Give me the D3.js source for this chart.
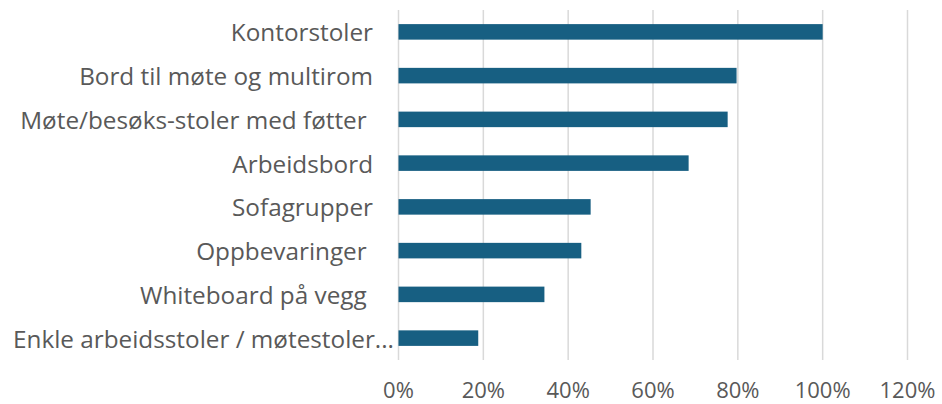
<!DOCTYPE html>
<html><head><meta charset="utf-8">
<script src="https://cdn.jsdelivr.net/npm/d3@7"></script>
<style>
html,body{margin:0;padding:0;background:#fff;}
svg text{white-space:pre;}
</style></head>
<body>
<div id="chart"></div>
<script>
const categories = ["Kontorstoler","Bord til møte og multirom","Møte/besøks-stoler med føtter ","Arbeidsbord","Sofagrupper","Oppbevaringer ","Whiteboard på vegg ","Enkle arbeidsstoler / møtestoler..."];
const values = [1.00, 0.797, 0.776, 0.684, 0.453, 0.431, 0.344, 0.188];
const xTicks = [0, 0.2, 0.4, 0.6, 0.8, 1.0, 1.2];

const W = 942, H = 404;
const margin = {left: 398.5, right: 34.5, top: 10, bottom: 44};
const svg = d3.select("#chart").append("svg").attr("width", W).attr("height", H);

const x = d3.scaleLinear().domain([0, 1.2]).range([margin.left, W - margin.right]);
const y = d3.scaleBand().domain(categories).range([margin.top, H - margin.bottom]).paddingInner(0.645).paddingOuter(0.3225);

const font = "'Open Sans', 'Noto Sans', sans-serif";

// gridlines
svg.append("g").selectAll("line").data(xTicks).join("line")
  .attr("x1", d => x(d)).attr("x2", d => x(d))
  .attr("y1", margin.top).attr("y2", H - margin.bottom)
  .attr("stroke", "#d9d9d9").attr("stroke-width", 1.5);

// bars
svg.append("g").selectAll("rect").data(values).join("rect")
  .attr("x", x(0)).attr("y", (d, i) => y(categories[i]))
  .attr("width", d => x(d) - x(0)).attr("height", y.bandwidth())
  .attr("fill", "#175f82");

// category labels (truncated labels extend a bit further right, as in the source)
svg.append("g").selectAll("text").data(categories).join("text")
  .attr("x", d => d.endsWith("...") ? 394 : 373).attr("y", d => y(d) + y.bandwidth() / 2)
  .attr("text-anchor", "end").attr("dominant-baseline", "central")
  .attr("font-family", font).attr("font-size", 24.3).attr("fill", "#595959")
  .text(d => d);

// x tick labels
svg.append("g").selectAll("text").data(xTicks).join("text")
  .attr("x", d => x(d)).attr("y", 389)
  .attr("text-anchor", "middle").attr("dominant-baseline", "central")
  .attr("font-family", font).attr("font-size", 22).attr("fill", "#595959")
  .text(d => d3.format(".0%")(d));
</script>
</body></html>
